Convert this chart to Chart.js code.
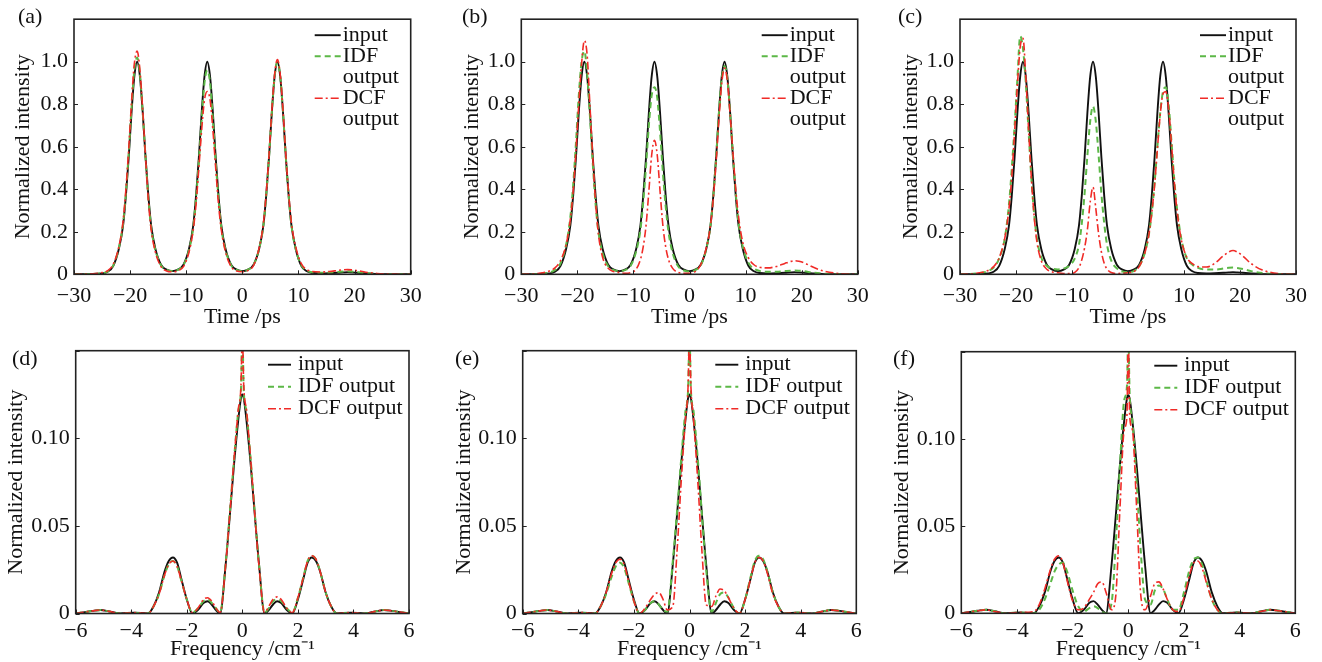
<!DOCTYPE html>
<html>
<head>
<meta charset="utf-8">
<script src="https://cdn.jsdelivr.net/npm/chart.js@4.4.1/dist/chart.umd.min.js"></script>
<style>
  body { margin: 0; background: #fff; }
  .panel { position: absolute; }
</style>
</head>
<body>
<div class="panel" style="left:0px;top:0px"><canvas id="chartA" width="440" height="330"></canvas></div>
<div class="panel" style="left:440px;top:0px"><canvas id="chartB" width="440" height="330"></canvas></div>
<div class="panel" style="left:880px;top:0px"><canvas id="chartC" width="442" height="330"></canvas></div>
<div class="panel" style="left:0px;top:330px"><canvas id="chartD" width="440" height="332"></canvas></div>
<div class="panel" style="left:440px;top:330px"><canvas id="chartE" width="440" height="332"></canvas></div>
<div class="panel" style="left:880px;top:330px"><canvas id="chartF" width="442" height="332"></canvas></div>
<script>
// time axis samples (ps), denser around the three pulses
let timePs = [
    -30, -27, -25, -24, -23,
    -22, -21.25, -20.75, -20.25, -19.75, -19.25, -18.75, -18.25, -17.75, -17.25, -16.75, -16.25, -15.5, -14.5, -13.5,
    -12.5, -11.5, -10.5, -9.5, -8.75, -8.25, -7.75, -7.25, -6.75, -6.25, -5.75, -5.25, -4.75, -4.25, -3.75, -3, -2, -1,
    0, 1, 2, 3, 3.75, 4.25, 4.75, 5.25, 5.75, 6.25, 6.75, 7.25, 7.75, 8.25, 8.75, 9.5, 10.5, 11.5,
    12.5, 14, 15.5, 17, 18, 18.75, 19.5, 20.5, 22, 24, 27, 30,
];

let inputTime = [
    0, 0.001, 0.004, 0.012, 0.04,
    0.12, 0.23, 0.37, 0.55, 0.76, 0.93, 1.0, 0.93, 0.76, 0.55, 0.37, 0.23, 0.12, 0.045, 0.022,
    0.015, 0.022, 0.045, 0.12, 0.23, 0.37, 0.55, 0.76, 0.93, 1.0, 0.93, 0.76, 0.55, 0.37, 0.23, 0.12, 0.045, 0.022,
    0.015, 0.022, 0.045, 0.12, 0.23, 0.37, 0.55, 0.76, 0.93, 1.0, 0.93, 0.76, 0.55, 0.37, 0.23, 0.12, 0.04, 0.014,
    0.006, 0.004, 0.005, 0.007, 0.009, 0.01, 0.009, 0.007, 0.004, 0.001, 0, 0,
];

let idfTimeA = [
    0, 0.001, 0.005, 0.013, 0.042,
    0.125, 0.24, 0.38, 0.57, 0.78, 0.96, 1.02, 0.94, 0.76, 0.55, 0.36, 0.22, 0.115, 0.043, 0.021,
    0.015, 0.021, 0.043, 0.115, 0.22, 0.36, 0.53, 0.73, 0.9, 0.96, 0.9, 0.73, 0.53, 0.36, 0.22, 0.115, 0.043, 0.021,
    0.015, 0.022, 0.045, 0.12, 0.23, 0.37, 0.55, 0.76, 0.93, 1.0, 0.93, 0.76, 0.55, 0.37, 0.23, 0.12, 0.043, 0.017,
    0.009, 0.007, 0.008, 0.011, 0.013, 0.014, 0.013, 0.01, 0.006, 0.002, 0, 0,
];
let dcfTimeA = [
    0, 0.002, 0.008, 0.017, 0.048,
    0.13, 0.25, 0.4, 0.59, 0.81, 0.99, 1.05, 0.96, 0.77, 0.55, 0.35, 0.21, 0.105, 0.036, 0.016,
    0.012, 0.016, 0.036, 0.105, 0.21, 0.33, 0.5, 0.68, 0.82, 0.86, 0.82, 0.68, 0.5, 0.33, 0.21, 0.105, 0.036, 0.015,
    0.012, 0.018, 0.042, 0.125, 0.24, 0.38, 0.56, 0.77, 0.94, 1.01, 0.94, 0.77, 0.56, 0.38, 0.24, 0.13, 0.05, 0.022,
    0.013, 0.011, 0.013, 0.018, 0.021, 0.022, 0.021, 0.017, 0.01, 0.004, 0.001, 0,
];

let idfTimeB = [
    0, 0.002, 0.008, 0.02, 0.052,
    0.14, 0.27, 0.42, 0.62, 0.84, 1.0, 1.05, 0.94, 0.74, 0.52, 0.33, 0.2, 0.1, 0.038, 0.02,
    0.016, 0.02, 0.04, 0.11, 0.21, 0.34, 0.51, 0.7, 0.84, 0.88, 0.83, 0.67, 0.48, 0.32, 0.2, 0.1, 0.037, 0.018,
    0.013, 0.02, 0.042, 0.12, 0.23, 0.37, 0.55, 0.76, 0.92, 0.98, 0.92, 0.76, 0.56, 0.38, 0.24, 0.13, 0.055, 0.026,
    0.016, 0.012, 0.012, 0.015, 0.017, 0.018, 0.017, 0.014, 0.008, 0.003, 0.001, 0,
];
let dcfTimeB = [
    0, 0.004, 0.015, 0.03, 0.065,
    0.14, 0.26, 0.39, 0.58, 0.8, 0.99, 1.1, 1.03, 0.79, 0.55, 0.34, 0.19, 0.08, 0.028, 0.013,
    0.008, 0.005, 0.008, 0.025, 0.07, 0.13, 0.23, 0.39, 0.56, 0.63, 0.56, 0.39, 0.23, 0.13, 0.07, 0.028, 0.009, 0.005,
    0.005, 0.013, 0.045, 0.125, 0.23, 0.36, 0.53, 0.73, 0.9, 0.97, 0.91, 0.75, 0.57, 0.4, 0.27, 0.15, 0.078, 0.045,
    0.033, 0.03, 0.037, 0.051, 0.06, 0.064, 0.061, 0.053, 0.034, 0.015, 0.003, 0,
];

let idfTimeC = [
    0, 0.004, 0.015, 0.032, 0.075,
    0.17, 0.33, 0.5, 0.7, 0.92, 1.12, 1.06, 0.9, 0.67, 0.45, 0.28, 0.165, 0.08, 0.04, 0.027,
    0.023, 0.027, 0.04, 0.075, 0.14, 0.24, 0.38, 0.56, 0.72, 0.79, 0.72, 0.56, 0.38, 0.24, 0.14, 0.065, 0.028, 0.013,
    0.01, 0.015, 0.038, 0.1, 0.19, 0.29, 0.43, 0.6, 0.76, 0.86, 0.88, 0.8, 0.63, 0.45, 0.31, 0.17, 0.075, 0.045,
    0.03, 0.022, 0.022, 0.027, 0.031, 0.032, 0.03, 0.025, 0.015, 0.006, 0.001, 0,
];
let dcfTimeC = [
    0, 0.005, 0.018, 0.036, 0.078,
    0.17, 0.31, 0.46, 0.67, 0.89, 1.07, 1.11, 0.93, 0.68, 0.45, 0.27, 0.15, 0.065, 0.024, 0.011,
    0.007, 0.004, 0.003, 0.009, 0.032, 0.068, 0.125, 0.21, 0.34, 0.41, 0.31, 0.19, 0.105, 0.052, 0.025, 0.008, 0.004, 0.005,
    0.007, 0.012, 0.036, 0.1, 0.19, 0.29, 0.42, 0.59, 0.75, 0.85, 0.86, 0.78, 0.62, 0.44, 0.3, 0.165, 0.08, 0.05,
    0.036, 0.034, 0.052, 0.086, 0.105, 0.112, 0.105, 0.086, 0.05, 0.02, 0.003, 0,
];

// frequency axis samples (cm^-1)
let freqCm = [
    -6, -5.4, -5.1, -4.8, -4.4, -3.9, -3.4, -3.2, -3.0, -2.8, -2.65, -2.5, -2.35, -2.2,
    -2.0, -1.8, -1.6, -1.4, -1.25, -1.1, -0.95, -0.8, -0.6, -0.45, -0.3, -0.15, -0.05,
    0,
    0.05, 0.15, 0.3, 0.45, 0.6, 0.8, 0.95, 1.1, 1.25, 1.4, 1.6, 1.8, 2.0,
    2.2, 2.35, 2.5, 2.65, 2.8, 3.0, 3.2, 3.4, 3.9, 4.4, 4.8, 5.1, 5.4, 6,
];

let inputFreq = [
    0, 0.0015, 0.002, 0.0012, 0, 0.0005, 0, 0.004, 0.012, 0.024, 0.03, 0.032, 0.029, 0.02,
    0.008, 0, 0.002, 0.006, 0.007, 0.005, 0.002, 0, 0.028, 0.056, 0.085, 0.11, 0.123,
    0.125,
    0.123, 0.11, 0.085, 0.056, 0.028, 0, 0.002, 0.005, 0.007, 0.006, 0.002, 0, 0.008,
    0.02, 0.029, 0.032, 0.03, 0.024, 0.012, 0.004, 0, 0.0005, 0, 0.0012, 0.002, 0.0015, 0,
];

let idfFreqD = [
    0, 0.0015, 0.002, 0.0012, 0, 0.0005, 0, 0.004, 0.011, 0.022, 0.028, 0.03, 0.027, 0.019,
    0.008, 0.0005, 0.003, 0.007, 0.008, 0.006, 0.003, 0.0005, 0.029, 0.058, 0.088, 0.115, 0.128,
    0.16,
    0.128, 0.115, 0.088, 0.057, 0.028, 0.0005, 0.003, 0.007, 0.008, 0.007, 0.003, 0.0005, 0.009,
    0.021, 0.03, 0.033, 0.031, 0.024, 0.012, 0.004, 0, 0.0005, 0, 0.0012, 0.002, 0.0015, 0,
];
let dcfFreqD = [
    0, 0.0015, 0.002, 0.0012, 0, 0.0005, 0, 0.004, 0.011, 0.022, 0.028, 0.03, 0.027, 0.019,
    0.008, 0.0005, 0.003, 0.008, 0.009, 0.007, 0.003, 0.0005, 0.028, 0.057, 0.088, 0.116, 0.13,
    0.16,
    0.13, 0.116, 0.088, 0.056, 0.027, 0.0005, 0.004, 0.008, 0.0095, 0.008, 0.003, 0.0005, 0.009,
    0.021, 0.03, 0.033, 0.031, 0.024, 0.012, 0.004, 0, 0.0005, 0, 0.0012, 0.002, 0.0015, 0,
];

let idfFreqE = [
    0, 0.0015, 0.002, 0.0012, 0, 0.0005, 0, 0.004, 0.011, 0.021, 0.027, 0.029, 0.026, 0.018,
    0.007, 0, 0.002, 0.006, 0.007, 0.005, 0.002, 0.001, 0.03, 0.058, 0.088, 0.115, 0.128,
    0.16,
    0.128, 0.115, 0.088, 0.056, 0.025, 0.001, 0.006, 0.011, 0.012, 0.009, 0.003, 0, 0.008,
    0.021, 0.03, 0.033, 0.031, 0.024, 0.012, 0.004, 0, 0.0005, 0, 0.0012, 0.002, 0.0015, 0,
];
let dcfFreqE = [
    0, 0.0015, 0.002, 0.0012, 0, 0.0005, 0, 0.004, 0.012, 0.023, 0.029, 0.031, 0.028, 0.019,
    0.007, 0, 0.003, 0.008, 0.011, 0.012, 0.008, 0.002, 0.004, 0.035, 0.075, 0.11, 0.13,
    0.16,
    0.13, 0.11, 0.075, 0.035, 0.005, 0.004, 0.01, 0.014, 0.013, 0.009, 0.003, 0, 0.008,
    0.02, 0.029, 0.032, 0.03, 0.023, 0.011, 0.004, 0, 0.0005, 0, 0.0012, 0.002, 0.0015, 0,
];

let idfFreqF = [
    0, 0.0015, 0.002, 0.0012, 0, 0.0005, 0, 0.002, 0.008, 0.017, 0.024, 0.028, 0.029, 0.024,
    0.013, 0.004, 0.001, 0.003, 0.004, 0.003, 0.001, 0, 0.006, 0.04, 0.085, 0.122, 0.13,
    0.16,
    0.125, 0.11, 0.075, 0.035, 0.008, 0.005, 0.013, 0.016, 0.014, 0.008, 0.002, 0.002, 0.012,
    0.025, 0.031, 0.032, 0.028, 0.019, 0.008, 0.002, 0, 0.0005, 0, 0.0012, 0.002, 0.0015, 0,
];
let dcfFreqF = [
    0, 0.0015, 0.002, 0.001, 0, 0.0005, 0.001, 0.005, 0.014, 0.025, 0.031, 0.033, 0.029, 0.019,
    0.007, 0.002, 0.003, 0.008, 0.012, 0.017, 0.018, 0.012, 0.002, 0.01, 0.06, 0.105, 0.113,
    0.16,
    0.113, 0.105, 0.06, 0.01, 0.002, 0.01, 0.017, 0.018, 0.014, 0.008, 0.002, 0.001, 0.009,
    0.022, 0.029, 0.03, 0.026, 0.018, 0.008, 0.002, 0, 0.0005, 0, 0.0012, 0.002, 0.0015, 0,
];

let legendTop = [['input'], ['IDF', 'output'], ['DCF', 'output']];
let legendBottom = [['input'], ['IDF output'], ['DCF output']];

const FONT = 'Liberation Serif';
const INK = '#111';
const lineStyles = [
    { color: '#111', width: 1.9, dash: [] },
    { color: '#5cb847', width: 2, dash: [6, 4] },
    { color: '#f02b27', width: 1.6, dash: [8, 3, 2, 3] },
];

// legend drawn inside the top right corner of the plot, MATLAB style
const insideLegend = {
    id: 'insideLegend',
    afterDatasetsDraw(chart, args, opts) {
        const ctx = chart.ctx;
        const a = chart.chartArea;
        ctx.save();
        ctx.font = '22px "' + FONT + '"';
        ctx.textBaseline = 'middle';
        ctx.fillStyle = INK;
        let y = a.top + opts.top;
        opts.items.forEach((lines, i) => {
            const st = lineStyles[i];
            ctx.beginPath();
            ctx.strokeStyle = st.color;
            ctx.lineWidth = st.width;
            ctx.setLineDash(st.dash);
            ctx.moveTo(a.right - opts.lineStart, y);
            ctx.lineTo(a.right - opts.lineEnd, y);
            ctx.stroke();
            ctx.setLineDash([]);
            lines.forEach(t => {
                ctx.fillText(t, a.right - opts.textStart, y);
                y += opts.rowHeight;
            });
        });
        ctx.restore();
    }
};

// box round the plot, short inward ticks and the panel letter
const frame = {
    id: 'frame',
    afterDraw(chart, args, opts) {
        const ctx = chart.ctx;
        const a = chart.chartArea;
        const sx = chart.scales.x, sy = chart.scales.y;
        ctx.save();
        ctx.strokeStyle = '#222';
        ctx.lineWidth = 1;
        sx.ticks.forEach(t => {
            const px = Math.round(sx.getPixelForValue(t.value)) + 0.5;
            ctx.beginPath();
            ctx.moveTo(px, a.bottom);
            ctx.lineTo(px, a.bottom - 4);
            ctx.stroke();
        });
        sy.ticks.forEach(t => {
            const py = Math.round(sy.getPixelForValue(t.value)) + 0.5;
            ctx.beginPath();
            ctx.moveTo(a.left, py);
            ctx.lineTo(a.left + 4, py);
            ctx.stroke();
        });
        ctx.lineWidth = 1.6;
        ctx.strokeRect(a.left, a.top, a.right - a.left, a.bottom - a.top);
        ctx.font = '22px "' + FONT + '"';
        ctx.fillStyle = INK;
        ctx.textBaseline = 'middle';
        ctx.fillText(opts.tag, opts.tagX, opts.tagY);
        ctx.restore();
    }
};

function minusLabel(v) {
    return v < 0 ? '\u2212' + (-v) : String(v);
}

function makePanel(id, xs, series, p) {
    const datasets = series.map((ys, i) => ({
        data: xs.map((x, k) => ({ x: x, y: ys[k] })),
        borderColor: lineStyles[i].color,
        borderWidth: lineStyles[i].width,
        borderDash: lineStyles[i].dash,
        order: 2 - i,
        fill: false,
    }));
    return new Chart(document.getElementById(id), {
        type: 'line',
        data: { datasets: datasets },
        options: {
            responsive: false,
            animation: false,
            layout: { padding: { left: 0, top: p.top, right: p.right, bottom: 0 } },
            elements: {
                point: { radius: 0 },
                line: { cubicInterpolationMode: 'monotone' },
            },
            plugins: {
                legend: { display: false },
                tooltip: { enabled: false },
                insideLegend: p.legend,
                frame: { tag: p.tag, tagX: p.tagX, tagY: p.tagY },
            },
            scales: {
                x: {
                    type: 'linear',
                    min: p.xMin, max: p.xMax,
                    grid: { display: false, drawTicks: false },
                    border: { display: false },
                    ticks: {
                        stepSize: p.xStep, autoSkip: false, maxRotation: 0,
                        padding: p.xTickPad, color: INK,
                        font: { family: FONT, size: 22 },
                        callback: minusLabel,
                    },
                    title: {
                        display: true, text: p.xTitle, color: INK,
                        font: { family: FONT, size: 22 },
                        padding: { top: 0, bottom: 0 },
                    },
                    afterFit: s => { s.height = p.xHeight; },
                },
                y: {
                    min: 0, max: p.yMax,
                    grid: { display: false, drawTicks: false },
                    border: { display: false },
                    ticks: {
                        stepSize: p.yStep, autoSkip: false,
                        padding: 6, color: INK,
                        font: { family: FONT, size: 22 },
                        callback: v => v > p.yMax - p.yStep / 2 ? '' : (v === 0 ? '0' : v.toFixed(p.yDecimals)),
                    },
                    title: {
                        display: true, text: 'Normalized intensity', color: INK,
                        font: { family: FONT, size: 22 },
                        padding: { top: p.yTitlePad, bottom: 0 },
                    },
                    afterFit: s => { s.width = p.yWidth; },
                },
            },
        },
        plugins: [insideLegend, frame],
    });
}

const timeBase = {
    xMin: -30, xMax: 30, xStep: 10, xTitle: 'Time /ps', xTickPad: 9,
    yMax: 1.2, yStep: 0.2, yDecimals: 1,
    top: 9, xHeight: 55.7,
    legend: { items: legendTop, top: 16, rowHeight: 21, lineStart: 96, lineEnd: 70, textStart: 68 },
};
const freqBase = {
    xMin: -6, xMax: 6, xStep: 2, xTitle: 'Frequency /cm\u207B\u00B9', xTickPad: 5,
    yMax: 0.15, yStep: 0.05, yDecimals: 2,
    top: 20.7, xHeight: 48.5,
    legend: { items: legendBottom, top: 14, rowHeight: 22, lineStart: 141, lineEnd: 118, textStart: 111 },
};

makePanel('chartA', timePs, [inputTime, idfTimeA, dcfTimeA],
    Object.assign({}, timeBase, { yWidth: 74, right: 29.3, yTitlePad: 10, tag: '(a)', tagX: 18, tagY: 17 }));
makePanel('chartB', timePs, [inputTime, idfTimeB, dcfTimeB],
    Object.assign({}, timeBase, { yWidth: 81.3, right: 22.3, yTitlePad: 19, tag: '(b)', tagX: 22, tagY: 17 }));
makePanel('chartC', timePs, [inputTime, idfTimeC, dcfTimeC],
    Object.assign({}, timeBase, { yWidth: 80, right: 26, yTitlePad: 18, tag: '(c)', tagX: 18, tagY: 17 }));
makePanel('chartD', freqCm, [inputFreq, idfFreqD, dcfFreqD],
    Object.assign({}, freqBase, { yWidth: 75.7, right: 31, yTitlePad: 3, tag: '(d)', tagX: 12, tagY: 29 }));
makePanel('chartE', freqCm, [inputFreq, idfFreqE, dcfFreqE],
    Object.assign({}, freqBase, { yWidth: 82.7, right: 23.7, yTitlePad: 11, tag: '(e)', tagX: 15, tagY: 29 }));
makePanel('chartF', freqCm, [inputFreq, idfFreqF, dcfFreqF],
    Object.assign({}, freqBase, { yWidth: 81.3, right: 26.7, top: 21.7, xHeight: 48.7, yTitlePad: 9, tag: '(f)', tagX: 13, tagY: 29 }));
</script>
</body>
</html>
